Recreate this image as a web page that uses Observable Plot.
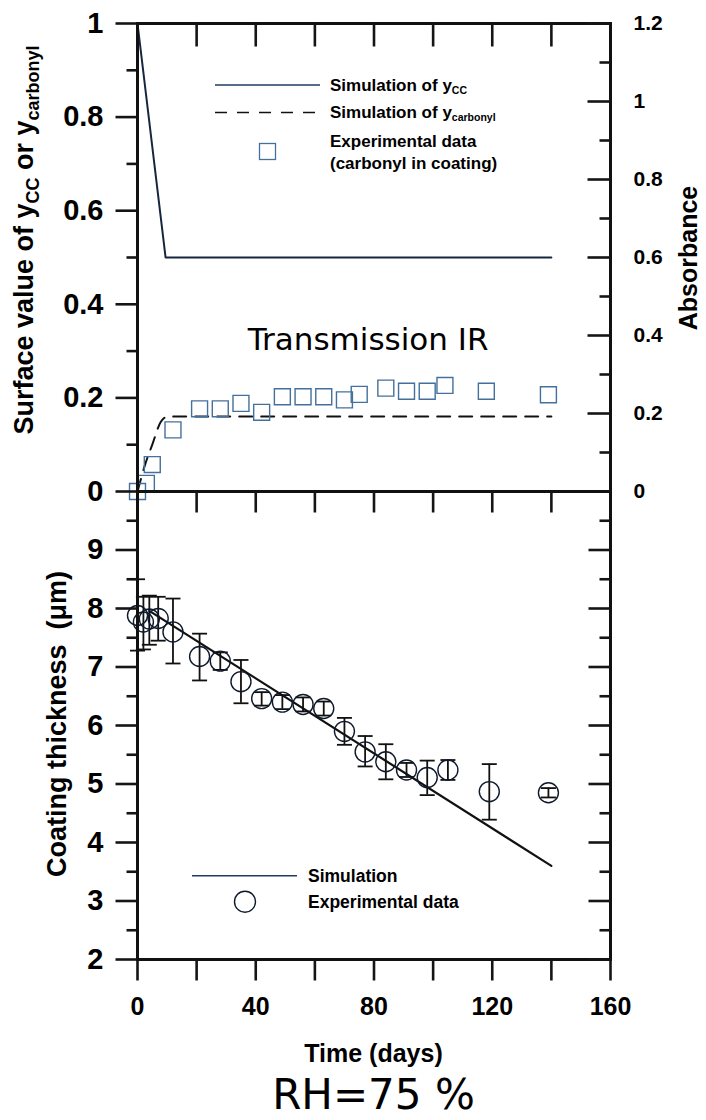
<!DOCTYPE html>
<html>
<head>
<meta charset="utf-8">
<script src="https://cdn.jsdelivr.net/npm/d3@7"></script>
<script src="https://cdn.jsdelivr.net/npm/@observablehq/plot@0.6"></script>
<style>
  html, body { margin: 0; padding: 0; background: #fff; }
  #wrap { position: relative; width: 706px; height: 1120px; overflow: hidden; background: #fff; }
  #wrap svg { position: absolute; left: 0; overflow: visible; background: transparent; }
  #caption { position: absolute; left: 137px; width: 473px; top: 1075px; text-align: center;
    font-family: "DejaVu Sans", Verdana, sans-serif; font-size: 42px; line-height: 40px; color: #000; }
</style>
</head>
<body>
<div id="wrap"><div id="caption">RH=75 %</div></div>
<script>
// ---------- data ----------
const absDays = [0, 3, 5, 12, 21, 28, 35, 42, 49, 56, 63, 70, 75, 84, 91, 98, 104, 118, 139];
const absorbance = [0, 0.021, 0.069, 0.158, 0.212, 0.212, 0.226, 0.203, 0.243, 0.243, 0.243, 0.235, 0.249, 0.265, 0.257, 0.257, 0.272, 0.257, 0.248];
const ccDays = [0, 9.5, 140];
const ccValues = [1, 0.5, 0.5];
const carbDays = [0, 2.7, 5, 7.8, 9, 10, 140];
const carbValues = [0, 0.06, 0.1, 0.148, 0.157, 0.16, 0.16];

const thickDays = [0, 2, 4, 7, 12, 21, 28, 35, 42, 49, 56, 63, 70, 77, 84, 91, 98, 105, 119, 139];
const thickness = [7.88, 7.77, 7.82, 7.83, 7.6, 7.18, 7.1, 6.75, 6.46, 6.4, 6.36, 6.29, 5.9, 5.55, 5.38, 5.24, 5.11, 5.24, 4.87, 4.85];
const thickLow  = [7.28, 7.3, 7.38, 7.45, 7.06, 6.77, 6.95, 6.38, 6.34, 6.28, 6.24, 6.17, 5.67, 5.3, 5.08, 5.12, 4.81, 5.07, 4.39, 4.77];
const thickHigh = [8.5, 8.2, 8.22, 8.2, 8.17, 7.57, 7.25, 7.12, 6.57, 6.52, 6.48, 6.41, 6.13, 5.82, 5.68, 5.36, 5.4, 5.41, 5.34, 4.93];
const simDays = [4, 140];
const simThickness = [7.96, 3.6];

// ---------- ticks / labels ----------
const xInnerTicks = [20, 40, 60, 80, 100, 120, 140];
const xBottomTicks = [0, 20, 40, 60, 80, 100, 120, 140, 160];
const xLabelStep = 40;
const topLeftMajor = [0, 0.2, 0.4, 0.6, 0.8, 1];
const topLeftMinor = [0.1, 0.3, 0.5, 0.7, 0.9];
const absMajor = [0, 0.2, 0.4, 0.6, 0.8, 1, 1.2];
const absMinor = [0.1, 0.3, 0.5, 0.7, 0.9, 1.1];
const absMax = 1.2;
const botLeftMajor = [2, 3, 4, 5, 6, 7, 8, 9];
const botMinor = [2.5, 3.5, 4.5, 5.5, 6.5, 7.5, 8.5, 9.5];
const botRightMajor = [2, 3, 4, 5, 6, 7, 8, 9];

const annotation = {t: 78, v: 0.323, text: "Transmission IR"};

// ---------- layout ----------
const W = 706, ML = 137, MR = 96;
const FW = W - ML - MR;          // frame width 473
const FH = 468;                  // frame height of each panel
const X_DOMAIN = [0, 160];
const TOP_DOMAIN = [0, 1];
const BOT_DOMAIN = [2, 10];
const TICK_MAJ = 22, TICK_MIN = 11;

// ---------- tables ----------
const absData = absDays.map((t, i) => ({t, a: absorbance[i]}));
const ccData = ccDays.map((t, i) => ({t, v: ccValues[i]}));
const carbData = carbDays.map((t, i) => ({t, v: carbValues[i]}));
const thickData = thickDays.map((t, i) => ({t, v: thickness[i], lo: thickLow[i], hi: thickHigh[i]}));
const simData = simDays.map((t, i) => ({t, v: simThickness[i]}));

const FONT = "'Liberation Sans', Arial, sans-serif";
const SQ = "#44709c";
const INK = "#111";
const capSymbol = {draw(ctx, size) { const w = Math.sqrt(size / Math.PI); ctx.moveTo(-w, 0); ctx.lineTo(w, 0); }};

// tick segments as two-point line series, tick length converted from pixels to data units
function tickSegments(yDomain, specs) {
  const ux = (X_DOMAIN[1] - X_DOMAIN[0]) / FW;
  const uy = (yDomain[1] - yDomain[0]) / FH;
  const out = [];
  let g = 0;
  for (const s of specs) {
    const m = s.map || (v => v);
    for (const v of s.values) {
      g++;
      if (s.side === "left") {
        out.push({g, x: X_DOMAIN[0] - s.len * ux, y: m(v)}, {g, x: X_DOMAIN[0], y: m(v)});
      } else if (s.side === "right") {
        out.push({g, x: X_DOMAIN[1] - s.len * ux, y: m(v)}, {g, x: X_DOMAIN[1], y: m(v)});
      } else if (s.side === "top") {
        out.push({g, x: v, y: yDomain[1]}, {g, x: v, y: yDomain[1] - s.len * uy});
      } else {
        out.push({g, x: v, y: yDomain[0]}, {g, x: v, y: yDomain[0] - s.len * uy});
      }
    }
  }
  return out;
}
const topTickSegs = tickSegments(TOP_DOMAIN, [
  {values: xInnerTicks, side: "top", len: 23},
  {values: topLeftMajor, side: "left", len: TICK_MAJ},
  {values: topLeftMinor, side: "left", len: TICK_MIN},
  {values: absMajor, side: "right", len: 23, map: d => d / absMax},
  {values: absMinor, side: "right", len: TICK_MIN, map: d => d / absMax}
]);
const botTickSegs = tickSegments(BOT_DOMAIN, [
  {values: xInnerTicks, side: "top", len: 21},
  {values: xBottomTicks, side: "bottom", len: 21},
  {values: botLeftMajor, side: "left", len: TICK_MAJ},
  {values: botMinor, side: "left", len: TICK_MIN},
  {values: botRightMajor, side: "right", len: TICK_MAJ},
  {values: botMinor, side: "right", len: TICK_MIN}
]);
const tickLines = segs => Plot.line(segs, {x: "x", y: "y", z: "g", stroke: "#151515", strokeWidth: 2.6, strokeLinecap: "butt"});

// ---------- top panel ----------
const topPlot = Plot.plot({
  width: W, height: 491,
  marginLeft: ML, marginRight: MR, marginTop: 23, marginBottom: 0,
  style: {overflow: "visible", background: "transparent"},
  x: {domain: X_DOMAIN, axis: null},
  y: {domain: TOP_DOMAIN, axis: null},
  marks: [
    Plot.axisY(topLeftMajor, {anchor: "left", tickSize: 0, tickPadding: 34, tickFormat: d => String(d),
      fontSize: 29, fontWeight: "bold", fontFamily: FONT, label: null}),
    Plot.axisY(absMajor, {anchor: "right", y: d => d / absMax, tickSize: 0, tickPadding: 23, tickFormat: d => String(d),
      fontSize: 21, fontWeight: "bold", fontFamily: FONT, label: null}),
    Plot.line(ccData, {x: "t", y: "v", stroke: "#17263f", strokeWidth: 2}),
    Plot.line(carbData, {x: "t", y: "v", stroke: INK, strokeWidth: 2, strokeDasharray: "13,9", curve: "monotone-x"}),
    Plot.dot(absData, {x: "t", y: d => d.a / absMax, symbol: "square", r: 9, stroke: SQ, strokeWidth: 1.4, fill: "none"}),
    Plot.text([annotation], {x: "t", y: "v", text: "text", fontSize: 31, fontFamily: "'DejaVu Sans', Verdana, sans-serif",
      textAnchor: "middle", lineAnchor: "middle", fill: "#000"}),
    Plot.frame({stroke: INK, strokeWidth: 3}),
    tickLines(topTickSegs)
  ]
});
topPlot.style.top = "0px";

// ---------- bottom panel ----------
const botPlot = Plot.plot({
  width: W, height: FH + 110,
  marginLeft: ML, marginRight: MR, marginTop: 0, marginBottom: 110,
  style: {overflow: "visible", background: "transparent"},
  x: {domain: X_DOMAIN, axis: null},
  y: {domain: BOT_DOMAIN, axis: null},
  marks: [
    Plot.axisX(xBottomTicks, {anchor: "bottom", tickSize: 0, tickPadding: 38,
      tickFormat: d => d % xLabelStep === 0 ? String(d) : "", fontSize: 25, fontWeight: "bold", fontFamily: FONT, label: null}),
    Plot.axisY(botLeftMajor, {anchor: "left", tickSize: 0, tickPadding: 34, tickFormat: d => String(d),
      fontSize: 29, fontWeight: "bold", fontFamily: FONT, label: null}),
    Plot.ruleX(thickData, {x: "t", y1: "lo", y2: "hi", stroke: INK, strokeWidth: 1.8}),
    Plot.dot(thickData, {x: "t", y: "lo", symbol: capSymbol, r: 7.5, stroke: INK, strokeWidth: 1.8, fill: "none"}),
    Plot.dot(thickData, {x: "t", y: "hi", symbol: capSymbol, r: 7.5, stroke: INK, strokeWidth: 1.8, fill: "none"}),
    Plot.line(simData, {x: "t", y: "v", stroke: INK, strokeWidth: 2.2}),
    Plot.dot(thickData, {x: "t", y: "v", r: 10, stroke: "#0e1a2c", strokeWidth: 1.4, fill: "none"}),
    Plot.frame({stroke: INK, strokeWidth: 3}),
    tickLines(botTickSegs)
  ]
});
botPlot.style.top = "491px";

const wrap = document.getElementById("wrap");
wrap.appendChild(topPlot);
wrap.appendChild(botPlot);

// ---------- titles & legends (real text) ----------
const ts = d3.select(topPlot);
const bs = d3.select(botPlot);

{
  const t = ts.append("text").attr("transform", "translate(33,240) rotate(-90)")
    .attr("text-anchor", "middle").attr("font-weight", "bold").attr("font-family", FONT).attr("fill", "#000");
  t.append("tspan").attr("font-size", 27).text("Surface value of y");
  t.append("tspan").attr("font-size", 18).attr("dy", 6).text("CC");
  t.append("tspan").attr("font-size", 27).attr("dy", -6).text(" or y");
  t.append("tspan").attr("font-size", 18).attr("dy", 6).text("carbonyl");
}
ts.append("text").attr("transform", "translate(697,258) rotate(-90)")
  .attr("text-anchor", "middle").attr("font-weight", "bold").attr("font-family", FONT)
  .attr("font-size", 25).attr("fill", "#000").text("Absorbance");

// top legend
ts.append("line").attr("x1", 215).attr("x2", 320).attr("y1", 85).attr("y2", 85)
  .attr("stroke", "#1f3b63").attr("stroke-width", 1.6);
ts.append("line").attr("x1", 215).attr("x2", 318).attr("y1", 112.5).attr("y2", 112.5)
  .attr("stroke", INK).attr("stroke-width", 1.6).attr("stroke-dasharray", "12,10");
ts.append("rect").attr("x", 259.5).attr("y", 143.5).attr("width", 16).attr("height", 16)
  .attr("fill", "none").attr("stroke", SQ).attr("stroke-width", 1.3);
{
  const g = ts.append("g").attr("font-family", FONT).attr("font-weight", "bold").attr("fill", "#000").attr("text-anchor", "start");
  const a = g.append("text").attr("x", 330).attr("y", 91);
  a.append("tspan").attr("font-size", 17).text("Simulation of y");
  a.append("tspan").attr("font-size", 10.5).attr("dy", 3).text("CC");
  const b = g.append("text").attr("x", 330).attr("y", 118);
  b.append("tspan").attr("font-size", 17).text("Simulation of y");
  b.append("tspan").attr("font-size", 10.5).attr("dy", 3).text("carbonyl");
  g.append("text").attr("x", 330).attr("y", 147).attr("font-size", 17).text("Experimental data");
  g.append("text").attr("x", 330).attr("y", 168.5).attr("font-size", 17).text("(carbonyl in coating)");
}

bs.append("text").attr("transform", "translate(66,233) rotate(-90)")
  .attr("text-anchor", "middle").attr("font-weight", "bold").attr("font-family", FONT)
  .attr("font-size", 27).attr("fill", "#000").text("Coating thickness  (\u03BCm)");
bs.append("text").attr("x", 373.5).attr("y", 571).attr("text-anchor", "middle")
  .attr("font-weight", "bold").attr("font-family", FONT).attr("font-size", 25).attr("fill", "#000").text("Time (days)");

// bottom legend
bs.append("line").attr("x1", 192).attr("x2", 297).attr("y1", 384.7).attr("y2", 384.7)
  .attr("stroke", "#1f3b63").attr("stroke-width", 1.6);
bs.append("circle").attr("cx", 245).attr("cy", 410.7).attr("r", 10.5)
  .attr("fill", "none").attr("stroke", "#0e1a2c").attr("stroke-width", 1.4);
{
  const g = bs.append("g").attr("font-family", FONT).attr("font-weight", "bold").attr("fill", "#000")
    .attr("font-size", 17.5).attr("text-anchor", "start");
  g.append("text").attr("x", 308).attr("y", 390.7).text("Simulation");
  g.append("text").attr("x", 308).attr("y", 416.7).text("Experimental data");
}
</script>
</body>
</html>
